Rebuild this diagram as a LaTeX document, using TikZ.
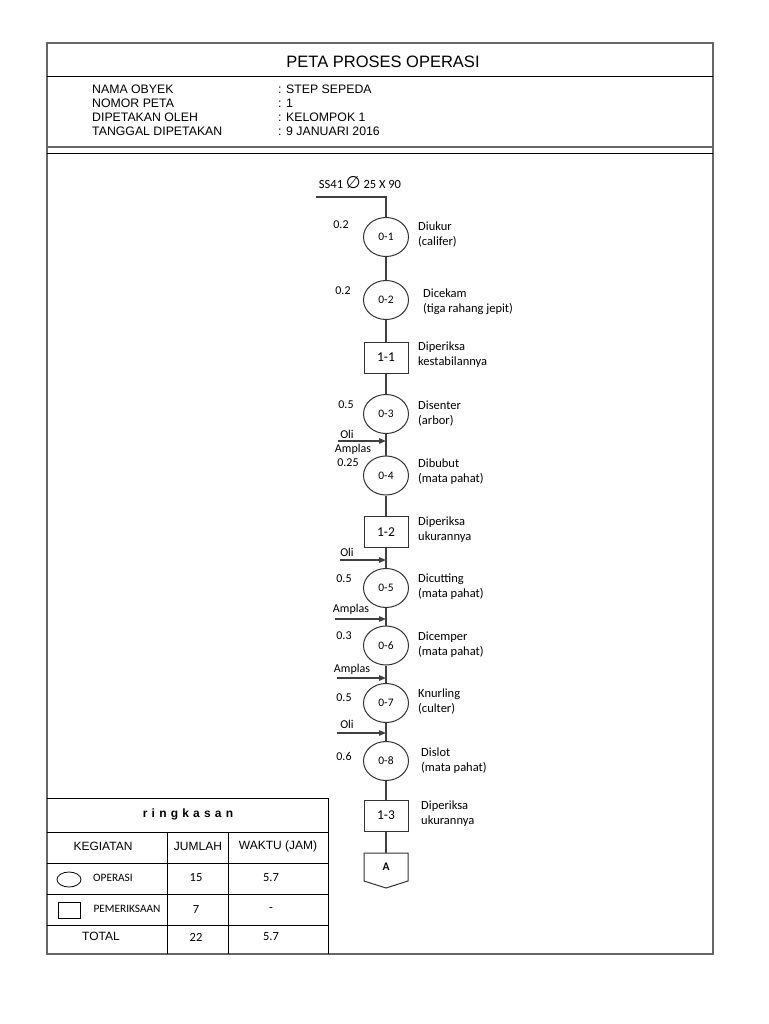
\documentclass[tikz,border=0pt]{standalone}
\usepackage{fontspec}
\setmainfont{Liberation Sans}
\newfontfamily\calfont{Carlito}
\newfontfamily\symfont{DejaVu Sans}
\usetikzlibrary{shapes.geometric,arrows.meta}
\begin{document}
\begin{tikzpicture}[x=1pt,y=-1pt,
  frame/.style={draw=black!60, line width=1.5pt},
  rule/.style={draw=black, line width=0.9pt},
  flow/.style={draw=black!75, line width=1.2pt},
  feed/.style={flow, -{Triangle[length=7pt,width=5.5pt]}},
  op/.style={ellipse, draw=black!80, line width=1pt, minimum width=45pt, minimum height=39pt, inner sep=0pt, font=\calfont\fontsize{11.5}{13}\selectfont},
  insp/.style={rectangle, draw=black!80, line width=1pt, minimum width=44pt, minimum height=31pt, inner sep=0pt, font=\calfont\fontsize{13.5}{15}\selectfont},
  desc/.style={anchor=west, align=left, inner sep=0pt, font=\calfont\fontsize{12.5}{15}\selectfont},
  tlabel/.style={inner sep=0pt, font=\calfont\fontsize{12}{13}\selectfont},
  info/.style={anchor=west, inner sep=0pt, font=\fontsize{12.3}{14}\selectfont},
  cell/.style={inner sep=0pt, font=\fontsize{12}{13}\selectfont},
  ccell/.style={inner sep=0pt, font=\calfont\fontsize{12.5}{13}\selectfont},
  scell/.style={inner sep=0pt, font=\calfont\fontsize{11.3}{12}\selectfont}
]
\useasboundingbox (0,0) rectangle (768,1024);

% ---- frame and header ----
\draw[frame] (47,43) rectangle (713,954);
\draw[rule] (47,76) -- (713,76);
\draw[frame] (47,147) -- (713,147);
\draw[rule] (47,153) -- (713,153);
\node[inner sep=0pt, font=\fontsize{16.5}{18}\selectfont] (title) at (383,62) {PETA PROSES OPERASI};

\node[info] (k1) at (92,89) {NAMA OBYEK};
\node[info] (k2) at (92,103) {NOMOR PETA};
\node[info] (k3) at (92,117) {DIPETAKAN OLEH};
\node[info] (k4) at (92,131) {TANGGAL DIPETAKAN};
\node[info] (v1) at (278,89) {: STEP SEPEDA};
\node[info] (v2) at (278,103) {: 1};
\node[info] (v3) at (278,117) {: KELOMPOK 1};
\node[info] (v4) at (278,131) {: 9 JANUARI 2016};

% ---- flow chart ----
\node[inner sep=0pt, font=\calfont\fontsize{12.5}{13}\selectfont] (mat) at (360,183) {SS41 {\symfont\fontsize{17}{17}\selectfont ∅} 25 X 90};
\coordinate (start) at (316,197);
\coordinate (corner) at (386,197);

\node[op] (o1) at (386,237) {0-1};
\node[op] (o2) at (386,300) {0-2};
\node[insp] (b1) at (386,357.5) {1-1};
\node[op] (o3) at (386,414) {0-3};
\node[op] (o4) at (386,475.5) {0-4};
\node[insp] (b2) at (386,532) {1-2};
\node[op] (o5) at (386,588) {0-5};
\node[op] (o6) at (386,645.5) {0-6};
\node[op] (o7) at (386,703) {0-7};
\node[op] (o8) at (386,761) {0-8};
\node[insp] (b3) at (386,815.5) {1-3};
\coordinate (Atop) at (386,853);
\draw[draw=black!80, line width=1pt] (364,853) -- (408,853) -- (408,881) -- (386,888) -- (364,881) -- cycle;
\node[inner sep=0pt, font=\calfont\bfseries\fontsize{11.5}{13}\selectfont] (A) at (386,867) {A};

\draw[flow] (start) -- (corner) -- (o1);
\draw[flow] (o1) -- (o2);
\draw[flow] (o2) -- (b1);
\draw[flow] (b1) -- (o3);
\draw[flow] (o3) -- (o4);
\draw[flow] (o4) -- (b2);
\draw[flow] (b2) -- (o5);
\draw[flow] (o5) -- (o6);
\draw[flow] (o6) -- (o7);
\draw[flow] (o7) -- (o8);
\draw[flow] (o8) -- (b3);
\draw[flow] (b3) -- (Atop);

% time labels
\node[tlabel] (t1) at (341,225) {0.2};
\node[tlabel] (t2) at (343,291) {0.2};
\node[tlabel] (t3) at (346,405) {0.5};
\node[tlabel] (t4) at (348,463) {0.25};
\node[tlabel] (t5) at (344,579) {0.5};
\node[tlabel] (t6) at (344,636) {0.3};
\node[tlabel] (t7) at (344,698) {0.5};
\node[tlabel] (t8) at (344,756) {0.6};

% descriptions
\node[desc] (d1) at (418,234.5) {Diukur\\(califer)};
\node[desc] (d2) at (423,302) {Dicekam\\(tiga rahang jepit)};
\node[desc] (d3) at (418,354.5) {Diperiksa\\kestabilannya};
\node[desc] (d4) at (418,413.5) {Disenter\\(arbor)};
\node[desc] (d5) at (418,471.5) {Dibubut\\(mata pahat)};
\node[desc] (d6) at (418,529.5) {Diperiksa\\ukurannya};
\node[desc] (d7) at (418,587) {Dicutting\\(mata pahat)};
\node[desc] (d8) at (418,644.5) {Dicemper\\(mata pahat)};
\node[desc] (d9) at (418,701.5) {Knurling\\(culter)};
\node[desc] (d10) at (421,760.5) {Dislot\\(mata pahat)};
\node[desc] (d11) at (421,814) {Diperiksa\\ukurannya};

% material inputs
\coordinate (f1s) at (338,441);  \coordinate (f1e) at (386,441);
\coordinate (f2s) at (340,560);  \coordinate (f2e) at (386,560);
\coordinate (f3s) at (335,619);  \coordinate (f3e) at (386,619);
\coordinate (f4s) at (337,678);  \coordinate (f4e) at (386,678);
\coordinate (f5s) at (337,733);  \coordinate (f5e) at (386,733);
\draw[feed] (f1s) -- (f1e);
\draw[feed] (f2s) -- (f2e);
\draw[feed] (f3s) -- (f3e);
\draw[feed] (f4s) -- (f4e);
\draw[feed] (f5s) -- (f5e);
\node[tlabel] (i1) at (347,434) {Oli};
\node[tlabel] (i1b) at (353,449) {Amplas};
\node[tlabel] (i2) at (347,552) {Oli};
\node[tlabel] (i3) at (351,609) {Amplas};
\node[tlabel] (i4) at (352,669) {Amplas};
\node[tlabel] (i5) at (347,724) {Oli};

% ---- summary table ----
\draw[rule] (47,798) -- (328,798) -- (328,954);
\draw[rule] (47,832) -- (328,832);
\draw[rule] (47,863) -- (328,863);
\draw[rule] (47,894) -- (328,894);
\draw[rule] (47,925) -- (328,925);
\draw[rule] (167,832) -- (167,954);
\draw[rule] (228,832) -- (228,954);

\node[inner sep=0pt, font=\bfseries\fontsize{12}{13}\selectfont] (rk) at (188,814) {r\hspace{4.2pt}i\hspace{4.2pt}n\hspace{4.2pt}g\hspace{4.2pt}k\hspace{4.2pt}a\hspace{4.2pt}s\hspace{4.2pt}a\hspace{4.2pt}n};
\node[cell] (h1) at (103,846) {KEGIATAN};
\node[cell] (h2) at (198,846) {JUMLAH};
\node[cell] (h3) at (278,846) {WAKTU (JAM)};

\node[ellipse, draw=black, line width=0.8pt, minimum width=24pt, minimum height=15pt, inner sep=0pt] (iconop) at (69,879.5) {};
\node[scell] (r1) at (113,878) {OPERASI};
\node[ccell] (r1b) at (196,878) {15};
\node[ccell] (r1c) at (271,878) {5.7};

\node[rectangle, draw=black, line width=0.8pt, minimum width=22pt, minimum height=16pt, inner sep=0pt] (iconin) at (69,910) {};
\node[scell] (r2) at (127,909) {PEMERIKSAAN};
\node[ccell] (r2b) at (196,909) {7};
\node[ccell] (r2c) at (271,909) {-};

\node[cell] (r3) at (101,936) {TOTAL};
\node[ccell] (r3b) at (196,937) {22};
\node[ccell] (r3c) at (271,937) {5.7};
\end{tikzpicture}
\end{document}
